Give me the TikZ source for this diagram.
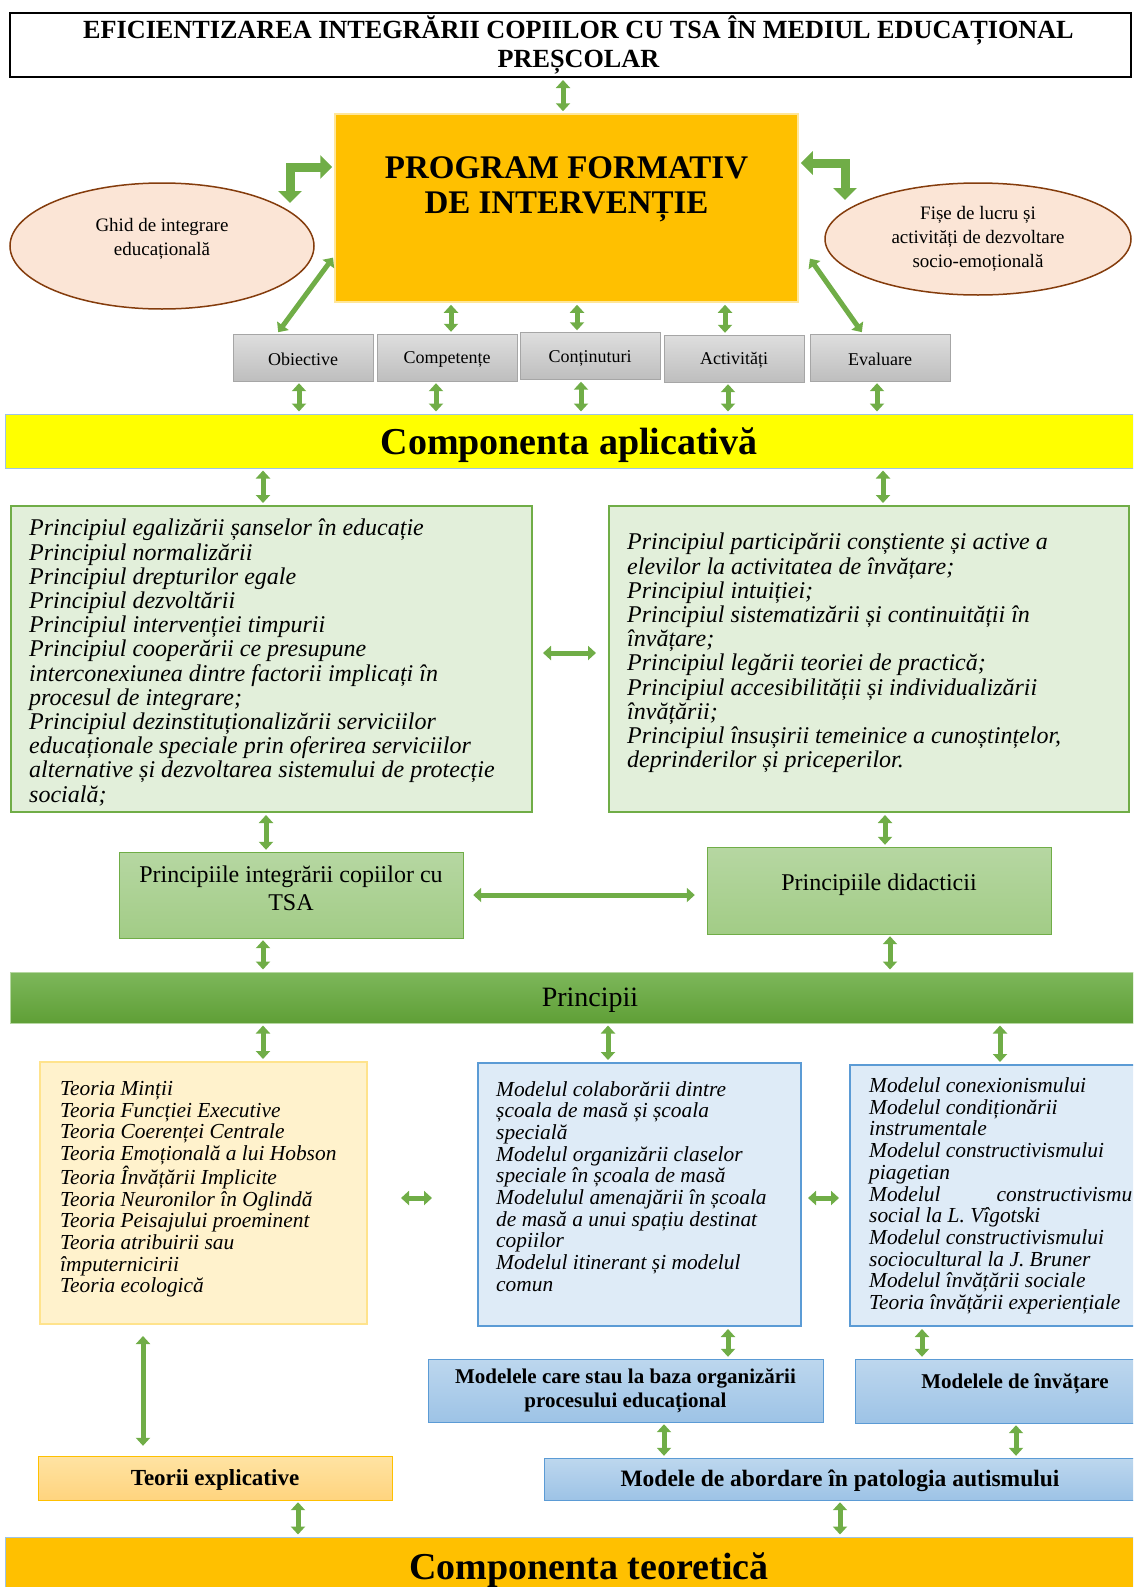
\documentclass[tikz,border=0pt]{standalone}
\usepackage{fontspec}
\setmainfont{Liberation Serif}
\usetikzlibrary{arrows.meta,shapes.geometric,positioning}

\definecolor{arrowgreen}{HTML}{70AD47}
\definecolor{progfill}{HTML}{FFC000}
\definecolor{progedge}{HTML}{FFE699}
\definecolor{ovalfill}{HTML}{FBE5D6}
\definecolor{ovaledge}{HTML}{843C0C}
\definecolor{graytop}{HTML}{DEDEDE}
\definecolor{graybot}{HTML}{BEBEBE}
\definecolor{grayedge}{HTML}{A6A6A6}
\definecolor{lightgreen}{HTML}{E2EFDA}
\definecolor{midgreentop}{HTML}{B6D7A2}
\definecolor{midgreenbot}{HTML}{A2CC86}
\definecolor{bargreentop}{HTML}{7DB75B}
\definecolor{bargreenbot}{HTML}{5F9F36}
\definecolor{lightyellow}{HTML}{FFF2CC}
\definecolor{yellowedge}{HTML}{FFE38C}
\definecolor{lightblue}{HTML}{DEEBF7}
\definecolor{blueedge}{HTML}{5B9BD5}
\definecolor{bluetop}{HTML}{BDD7EE}
\definecolor{bluebot}{HTML}{9DC3E6}
\definecolor{goldtop}{HTML}{FFE3A3}
\definecolor{goldbot}{HTML}{FFD47E}
\definecolor{pureyellow}{HTML}{FFFF00}

\begin{document}
\begin{tikzpicture}[
        x=1pt, y=-1pt,
        >={Triangle[width=14pt,length=8pt]},
        connect/.style={draw=arrowgreen, line width=5pt, <->, shorten <=2pt, shorten >=2pt},
        bentarrow/.style={draw=arrowgreen, line width=9pt, >={Triangle[width=23pt,length=12pt]}, <->},
        headline/.style={rectangle, draw=black, line width=2pt, minimum width=1121pt, minimum height=64pt},
        progbox/.style={rectangle, draw=progedge, fill=progfill, line width=1.5pt, minimum width=463pt, minimum height=188pt},
        ovalnode/.style={ellipse, draw=ovaledge, fill=ovalfill, line width=1.5pt, inner sep=0pt, align=center, font=\fontsize{19}{24}\selectfont},
        part/.style={rectangle, draw=grayedge, top color=graytop, bottom color=graybot, minimum width=140pt, minimum height=47pt, inner sep=0pt},
        parttext/.style={font=\fontsize{18}{21}\selectfont},
        stripe/.style={rectangle, minimum width=1128pt, minimum height=54pt, inner sep=0pt},
        stripetext/.style={font=\bfseries\fontsize{38}{42}\selectfont},
        listbox/.style={rectangle, line width=2pt, inner sep=0pt},
        bigitem/.style={anchor=north west, align=left, inner sep=0pt, font=\itshape\fontsize{24}{24.2}\selectfont},
        smallitem/.style={anchor=north west, align=left, inner sep=0pt, font=\itshape\fontsize{21.4}{21.7}\selectfont},
        principle/.style={rectangle, draw=arrowgreen, top color=midgreentop, bottom color=midgreenbot, minimum width=344pt, inner sep=0pt},
        modelbox/.style={rectangle, draw=blueedge, top color=bluetop, bottom color=bluebot, inner sep=0pt, align=center, font=\bfseries\fontsize{21}{24}\selectfont}
    ]
    \useasboundingbox (0,0) rectangle (1133,1587);
    \clip (0,0) rectangle (1133,1587);

    % ==========================================
    % 1. Titlu si program formativ
    % ==========================================
    \node[headline] (title) at (570.5,45) {};
    \node[align=center, font=\bfseries\fontsize{26.2}{29}\selectfont] (titletxt) at ([xshift=8pt]title.center) {EFICIENTIZAREA INTEGRĂRII COPIILOR CU TSA ÎN MEDIUL EDUCAȚIONAL\\PREȘCOLAR};
    \node[progbox] (prog) at (566.5,208) {};
    \node[align=center, font=\bfseries\fontsize{33}{35}\selectfont] (progtxt) at ([yshift=19pt]prog.center) {PROGRAM FORMATIV\\DE INTERVENȚIE};

    \node[ovalnode, minimum width=304pt, minimum height=126pt] (ghid) at (162,246) {};
    \node[align=center, font=\fontsize{19}{24}\selectfont] (ghidtxt) at ([yshift=7pt]ghid.center) {Ghid de integrare\\educațională};
    \node[ovalnode, minimum width=306pt, minimum height=112pt] (fise) at (978,239) {Fișe de lucru și\\activități de dezvoltare\\socio-emoțională};

    % componentele programului
    \node[part] (obj) at (303,357.5) {};
    \node[part] (comp) at (447,357.5) {};
    \node[part] (cont) at (590,356) {};
    \node[part] (act) at (734,358.5) {};
    \node[part] (eval) at (880,357.5) {};
    \foreach \b/\t in {obj/Obiective, comp/Competențe, cont/Conținuturi, act/Activități, eval/Evaluare} {
        \node[parttext] (\b txt) at ([yshift=-2pt]\b.center) {\t};
    }

    \node[stripe, fill=pureyellow, draw=bluebot, line width=1pt] (apl) at (569,441) {};
    \node[stripetext] (apltxt) at ([yshift=-4pt]apl.center) {Componenta aplicativă};

    % ==========================================
    % 2. Principii
    % ==========================================
    \node[listbox, draw=arrowgreen, fill=lightgreen, minimum width=521pt, minimum height=306pt] (lg) at (271.5,659) {};
    \node[bigitem] (lgtxt) at ([shift={(19pt,-14pt)}]lg.north west) {Principiul egalizării șanselor în educație\\
        Principiul normalizării\\
        Principiul drepturilor egale\\
        Principiul dezvoltării\\
        Principiul intervenției timpurii\\
        Principiul cooperării ce presupune\\
        interconexiunea dintre factorii implicați în\\
        procesul de integrare;\\
        Principiul dezinstituționalizării serviciilor\\
        educaționale speciale prin oferirea serviciilor\\
        alternative și dezvoltarea sistemului de protecție\\
        socială;};

    \node[listbox, draw=arrowgreen, fill=lightgreen, minimum width=520pt, minimum height=306pt] (rg) at (869,659) {};
    \node[bigitem] (rgtxt) at ([shift={(19pt,-28pt)}]rg.north west) {Principiul participării conștiente și active a\\
        elevilor la activitatea de învățare;\\
        Principiul intuiției;\\
        Principiul sistematizării și continuității în\\
        învățare;\\
        Principiul legării teoriei de practică;\\
        Principiul accesibilității și individualizării\\
        învățării;\\
        Principiul însușirii temeinice a cunoștințelor,\\
        deprinderilor și priceperilor.};

    \node[principle, minimum height=86pt] (pi) at (291,895) {};
    \node[align=center, font=\fontsize{24}{28}\selectfont] (pitxt) at ([yshift=7pt]pi.center) {Principiile integrării copiilor cu\\TSA};
    \node[principle, minimum height=87pt] (pd) at (879,890.5) {};
    \node[font=\fontsize{24}{28}\selectfont] (pdtxt) at ([yshift=5.5pt]pd.center) {Principiile didacticii};

    \node[stripe, minimum width=1123pt, minimum height=51pt, top color=bargreentop, bottom color=bargreenbot, draw=midgreentop, line width=1pt] (princ) at (571.5,997.5) {};
    \node[font=\fontsize{28}{32}\selectfont] (princtxt) at ([shift={(18.5pt,-3pt)}]princ.center) {Principii};

    % ==========================================
    % 3. Teorii si modele
    % ==========================================
    \node[listbox, draw=yellowedge, fill=lightyellow, minimum width=327pt, minimum height=262pt] (teo) at (203.5,1193) {};
    \node[smallitem] (teotxt) at ([shift={(21pt,-20pt)}]teo.north west) {Teoria Minții\\
        Teoria Funcției Executive\\
        Teoria Coerenței Centrale\\
        Teoria Emoțională a lui Hobson\\
        Teoria Învățării Implicite\\
        Teoria Neuronilor în Oglindă\\
        Teoria Peisajului proeminent\\
        Teoria atribuirii sau\\
        împuternicirii\\
        Teoria ecologică};

    \node[listbox, draw=blueedge, fill=lightblue, minimum width=323pt, minimum height=263pt] (bm1) at (639.5,1194.5) {};
    \node[smallitem] (bm1txt) at ([shift={(19pt,-19pt)}]bm1.north west) {Modelul colaborării dintre\\
        școala de masă și școala\\
        specială\\
        Modelul organizării claselor\\
        speciale în școala de masă\\
        Modelulul amenajării în școala\\
        de masă a unui spațiu destinat\\
        copiilor\\
        Modelul itinerant și modelul\\
        comun};

    \node[listbox, draw=blueedge, fill=lightblue, minimum width=290pt, minimum height=261pt] (bm2) at (995,1195.5) {};
    \node[smallitem] (bm2txt) at ([shift={(20pt,-13.5pt)}]bm2.north west) {Modelul conexionismului\\
        Modelul condiționării\\
        instrumentale\\
        Modelul constructivismului\\
        piagetian\\
        \makebox[263pt][l]{Modelul\hfill constructivismu}\\
        social la L. Vîgotski\\
        Modelul constructivismului\\
        sociocultural la J. Bruner\\
        Modelul învățării sociale\\
        Teoria învățării experiențiale};

    \node[modelbox, minimum width=395pt, minimum height=63pt] (mo1) at (625.5,1390.5) {Modelele care stau la baza organizării\\procesului educațional};
    \node[modelbox, minimum width=285pt, minimum height=64pt] (mo2) at (997.5,1391) {};
    \node[font=\bfseries\fontsize{21}{24}\selectfont] (mo2txt) at ([shift={(17.5pt,7pt)}]mo2.center) {Modelele de învățare};

    \node[rectangle, draw=progfill, top color=goldtop, bottom color=goldbot, minimum width=354pt, minimum height=44pt, inner sep=0pt] (te) at (215,1478) {};
    \node[font=\bfseries\fontsize{23}{26}\selectfont] (tetxt) at ([yshift=-2pt]te.center) {Teorii explicative};
    \node[modelbox, minimum width=596pt, minimum height=42pt] (mab) at (842,1479) {};
    \node[font=\bfseries\fontsize{23.5}{26}\selectfont] (mabtxt) at ([shift={(-2pt,-2pt)}]mab.center) {Modele de abordare în patologia autismului};

    \node[stripe, minimum height=50pt, fill=progfill, draw=bluebot, line width=1pt] (teor) at (569,1562) {};
    \node[stripetext] (teortxt) at ([shift={(20pt,-8pt)}]teor.center) {Componenta teoretică};

    % ==========================================
    % 4. Sageti
    % ==========================================
    \draw[connect] ([xshift=-7.5pt]title.south) -- ([xshift=-7.5pt]title.south |- prog.north);
    \draw[bentarrow, shorten >=2pt] ([shift={(128pt,43pt)}]ghid.center) |- ([yshift=41pt]prog.west);
    \draw[bentarrow, shorten <=2pt] ([yshift=45pt]prog.east) -| ([shift={(-133pt,39pt)}]fise.center);
    \draw[connect] ([yshift=-48pt]prog.west) -- ([xshift=-26pt]obj.north);
    \draw[connect] ([shift={(10pt,-49pt)}]prog.east) -- ([xshift=-17pt]eval.north);
    \foreach \b/\dx in {comp/4, cont/-13, act/-9} {
        \draw[connect] ([xshift=\dx pt]\b.north |- prog.south) -- ([xshift=\dx pt]\b.north);
    }
    \foreach \b/\dx in {obj/-4, comp/-11, cont/-9, act/-6, eval/-3} {
        \draw[connect] ([xshift=\dx pt]\b.south) -- ([xshift=\dx pt]\b.south |- apl.north);
    }

    \draw[connect] ([xshift=-8.5pt]lg.north |- apl.south) -- ([xshift=-8.5pt]lg.north);
    \draw[connect] ([xshift=14pt]rg.north |- apl.south) -- ([xshift=14pt]rg.north);
    \draw[connect, shorten <=10pt, shorten >=12pt] ([yshift=6pt]lg.east) -- ([yshift=6pt]lg.east -| rg.west);
    \draw[connect] ([xshift=-5.5pt]lg.south) -- ([xshift=-5.5pt]lg.south |- pi.north);
    \draw[connect] ([xshift=16pt]rg.south) -- ([xshift=16pt]rg.south |- pd.north);
    \draw[connect, shorten <=10pt, shorten >=12pt] (pi.east) -- (pi.east -| pd.west);
    \draw[connect] ([xshift=-28pt]pi.south) -- ([xshift=-28pt]pi.south |- princ.north);
    \draw[connect] ([xshift=11pt]pd.south) -- ([xshift=11pt]pd.south |- princ.north);

    \foreach \b/\dx in {teo/59.5, bm1/-31.5, bm2/5} {
        \draw[connect] ([xshift=\dx pt]\b.north |- princ.south) -- ([xshift=\dx pt]\b.north);
    }
    \draw[connect, shorten <=33pt, shorten >=45pt] ([yshift=-5pt]teo.east) -- ([yshift=-5pt]teo.east -| bm1.west);
    \draw[connect, shorten <=6pt, shorten >=10pt] ([yshift=-3.5pt]bm1.east) -- ([yshift=-3.5pt]bm1.east -| bm2.west);
    \draw[connect] ([xshift=88.5pt]bm1.south) -- ([xshift=88.5pt]bm1.south |- mo1.north);
    \draw[connect] ([xshift=-73pt]bm2.south) -- ([xshift=-73pt]bm2.south |- mo2.north);
    \draw[connect, shorten <=11pt, shorten >=10pt] ([xshift=-60.5pt]teo.south) -- ([xshift=-60.5pt]teo.south |- te.north);
    \draw[connect] ([xshift=38.5pt]mo1.south) -- ([xshift=38.5pt]mo1.south |- mab.north);
    \draw[connect] ([xshift=18.5pt]mo2.south) -- ([xshift=18.5pt]mo2.south |- mab.north);
    \draw[connect] ([xshift=83pt]te.south) -- ([xshift=83pt]te.south |- teor.north);
    \draw[connect] ([xshift=-2pt]mab.south) -- ([xshift=-2pt]mab.south |- teor.north);
\end{tikzpicture}
\end{document}
